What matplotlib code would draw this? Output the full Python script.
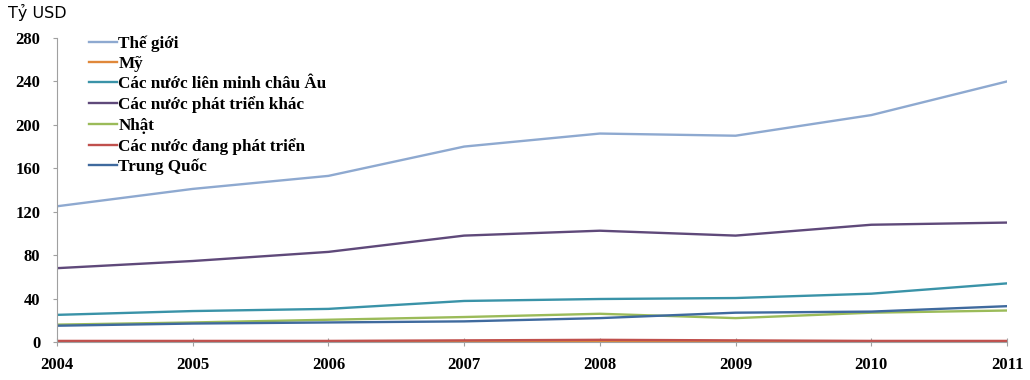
import matplotlib
matplotlib.use('Agg')
import matplotlib.pyplot as plt

years = [2004, 2005, 2006, 2007, 2008, 2009, 2010, 2011]

the_gioi = [125, 141, 153, 180, 192, 190, 209, 240]
my = [0.5, 0.5, 0.5, 0.6, 0.7, 0.6, 0.5, 0.5]
eu = [25, 28.5, 30.5, 37.8, 39.6, 40.5, 44.5, 54]
phat_trien_khac = [68, 74.6, 83, 98, 102.5, 98, 108, 110]
nhat = [16, 18, 20.5, 23, 26, 22, 27, 29]
dang_phat_trien = [1, 1, 1, 1.5, 2, 1.5, 1, 1]
trung_quoc = [15, 17, 18, 19, 22, 27, 28, 33]

labels = ['Thế giới', 'Mỹ', 'Các nước liên minh châu Âu',
          'Các nước phát triển khác', 'Nhật', 'Các nước đang phát triển',
          'Trung Quốc']
colors = ['#8EA9D0', '#E0883A', '#3A93A8', '#5F497A', '#9BBB59',
          '#C0504D', '#3F6A9E']
series = [the_gioi, my, eu, phat_trien_khac, nhat, dang_phat_trien, trung_quoc]

fig = plt.figure(figsize=(10.3, 3.8), dpi=100)
ax = fig.add_axes([0.0553, 0.1, 0.9224, 0.8])

for vals, lab, c in zip(series, labels, colors):
    ax.plot(years, vals, color=c, lw=1.7, label=lab)

ax.set_xlim(2004, 2011)
ax.set_ylim(0, 280)
ax.set_yticks(range(0, 281, 40))
ax.set_xticks(years)

for t in ax.get_xticklabels() + ax.get_yticklabels():
    t.set_fontfamily('Liberation Serif')
    t.set_fontweight('bold')
    t.set_fontsize(12)

for s in ['top', 'right']:
    ax.spines[s].set_visible(False)
ax.spines['left'].set_color('#A0A0A0')
ax.spines['bottom'].set_color('#A0A0A0')
ax.tick_params(axis='y', direction='out', length=3, color='#A0A0A0', pad=9)
ax.tick_params(axis='x', direction='inout', length=6, color='#A0A0A0', pad=8)

leg = ax.legend(loc='upper left', bbox_to_anchor=(0.018, 1.058), frameon=False,
                prop={'family': 'Liberation Serif', 'weight': 'bold', 'size': 12.3},
                handlelength=1.6, handletextpad=0.1, labelspacing=0.24)

fig.text(0.008, 0.99, 'Tỷ USD', ha='left', va='top', fontsize=11.5,
         family='DejaVu Sans')

fig.savefig('out.png', dpi=100)
